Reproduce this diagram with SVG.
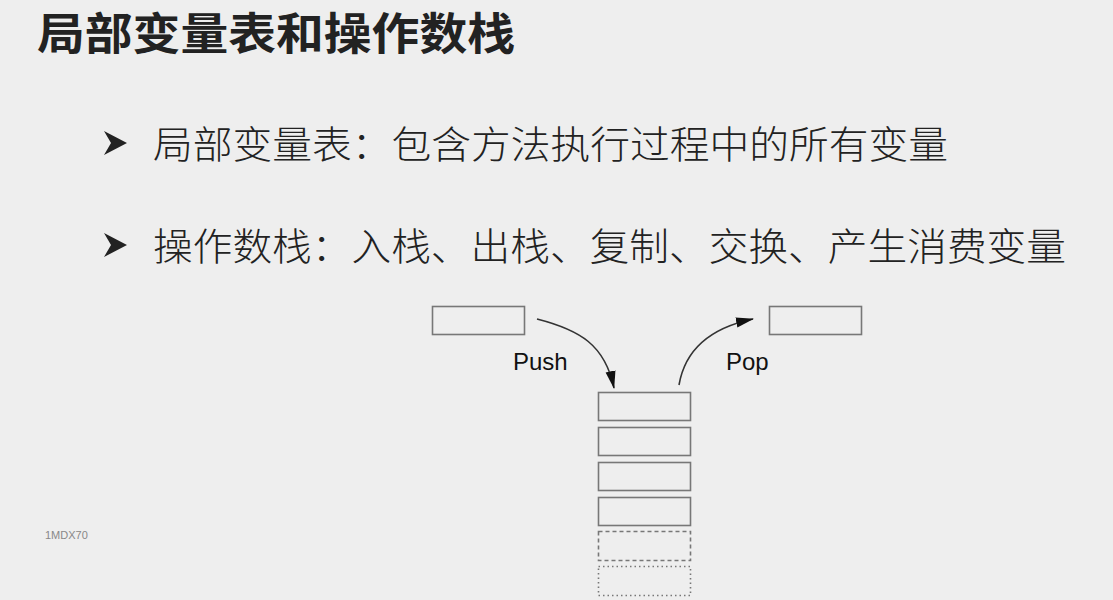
<svg xmlns="http://www.w3.org/2000/svg" width="1113" height="600" viewBox="0 0 1113 600">
<defs>
<style>
.title{font-family:"Noto Sans CJK SC","Liberation Sans",sans-serif;font-size:44px;font-weight:bold;fill:#222}
.bullet{font-family:"Noto Sans CJK SC","Liberation Sans",sans-serif;font-size:38px;font-weight:300;fill:#222}
.lbl{font-family:"Liberation Sans",Arial,sans-serif;font-size:24px;fill:#111}
.box{fill:none;stroke:#777;stroke-width:1.6}
.conn{fill:none;stroke:#333;stroke-width:1.6}
</style>
<marker id="ah" viewBox="0 0 18 12" refX="17" refY="6" markerWidth="18" markerHeight="12" markerUnits="userSpaceOnUse" orient="auto">
<path d="M0,1 L18,6 L0,11 Z" fill="#111"/>
</marker>
</defs>
<rect width="1113" height="600" fill="#eeeeee"/>
<text class="title" x="37" y="50" textLength="478" lengthAdjust="spacingAndGlyphs">局部变量表和操作数栈</text>
<g id="b1">
<path d="M104,131 L127,143 L104,155 L111,143 Z" fill="#222"/>
<text class="bullet" x="153" y="158" textLength="795" lengthAdjust="spacingAndGlyphs">局部变量表：包含方法执行过程中的所有变量</text>
</g>
<g id="b2">
<path d="M104,233 L127,245 L104,257 L111,245 Z" fill="#222"/>
<text class="bullet" x="153" y="260" textLength="913" lengthAdjust="spacingAndGlyphs">操作数栈：入栈、出栈、复制、交换、产生消费变量</text>
</g>
<g id="src"><rect class="box" x="432.5" y="306.5" width="92" height="28"/></g>
<g id="dst"><rect class="box" x="769.5" y="306.5" width="92" height="28"/></g>
<g id="stack">
<rect class="box" x="598.5" y="392.5" width="92" height="28"/>
<rect class="box" x="598.5" y="427.5" width="92" height="28"/>
<rect class="box" x="598.5" y="462.5" width="92" height="28"/>
<rect class="box" x="598.5" y="497.5" width="92" height="28"/>
<rect class="box" x="598.5" y="531.5" width="92" height="29" stroke="#999" stroke-dasharray="4,3"/>
<rect class="box" x="598.5" y="566.5" width="92" height="29" stroke="#aaa" stroke-dasharray="1.5,3"/>
</g>
<g id="connectors">
<path class="conn" d="M537,319 C580,330 605,345 614,388" marker-end="url(#ah)"/>
<path class="conn" d="M679,385 C685,350 710,328 753,319" marker-end="url(#ah)"/>
</g>
<text class="lbl" x="513" y="370">Push</text>
<text class="lbl" x="726" y="370">Pop</text>
<text x="45" y="539" font-family="Liberation Sans,Arial,sans-serif" font-size="11" fill="#888">1MDX70</text>
</svg>
